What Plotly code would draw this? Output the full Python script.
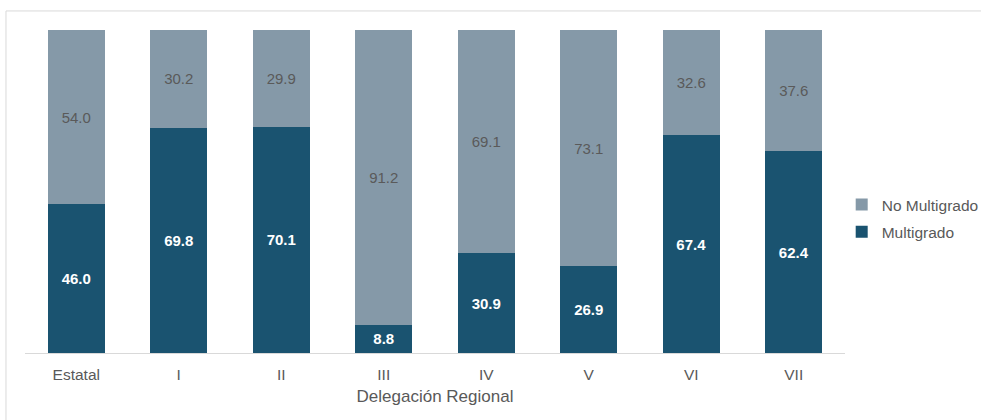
import plotly.graph_objects as go

categories = ["Estatal", "I", "II", "III", "IV", "V", "VI", "VII"]
multigrado = [46.0, 69.8, 70.1, 8.8, 30.9, 26.9, 67.4, 62.4]
no_multigrado = [54.0, 30.2, 29.9, 91.2, 69.1, 73.1, 32.6, 37.6]

FONT = "Liberation Sans, Arial"

fig = go.Figure()
fig.add_trace(go.Bar(
    x=categories, y=multigrado, name="Multigrado", legendgroup="m", legendrank=2,
    marker=dict(color="#1a5370", line=dict(width=0)),
    text=[f"{v:.1f}" for v in multigrado], textposition="inside",
    insidetextanchor="middle", constraintext="none",
    textfont=dict(color="white", size=15, family=FONT, weight="bold"),
))
fig.add_trace(go.Bar(
    x=categories, y=no_multigrado, name="No Multigrado", legendgroup="n", legendrank=1,
    marker=dict(color="#8599a8", line=dict(width=0)),
    text=[f"{v:.1f}" for v in no_multigrado], textposition="inside",
    insidetextanchor="middle", constraintext="none",
    textfont=dict(color="#5a5a5a", size=15, family=FONT),
))

fig.update_layout(
    barmode="stack", bargap=0.44,
    width=981, height=420,
    margin=dict(l=25, r=136, t=30, b=67, autoexpand=False),
    paper_bgcolor="white", plot_bgcolor="white",
    font=dict(family=FONT, color="#595959", size=15),
    showlegend=True,
    legend=dict(traceorder="grouped", xref="container", yref="container",
                x=0.858, xanchor="left", y=0.48, yanchor="middle",
                font=dict(size=15.5, color="#595959"), itemwidth=30, tracegroupgap=4,
                bgcolor="rgba(0,0,0,0)"),
    xaxis=dict(showline=True, linecolor="#d9d9d9", linewidth=1, ticks="outside",
               ticklen=7, tickcolor="rgba(0,0,0,0)", showgrid=False,
               tickfont=dict(size=15.5, color="#595959"),
               title=dict(text="Delegación Regional", font=dict(size=17, color="#595959"), standoff=8)),
    yaxis=dict(range=[0, 100], visible=False, showgrid=False),
    shapes=[dict(type="rect", xref="paper", yref="paper", x0=-0.0232, x1=1.2, y0=-0.3, y1=1.059,
                 line=dict(color="#d9d9d9", width=1), fillcolor="rgba(0,0,0,0)", layer="below")],
)

fig.write_html("out.html", config={"displayModeBar": False},
               post_script="document.body.style.margin='0';document.body.style.overflow='hidden';")
